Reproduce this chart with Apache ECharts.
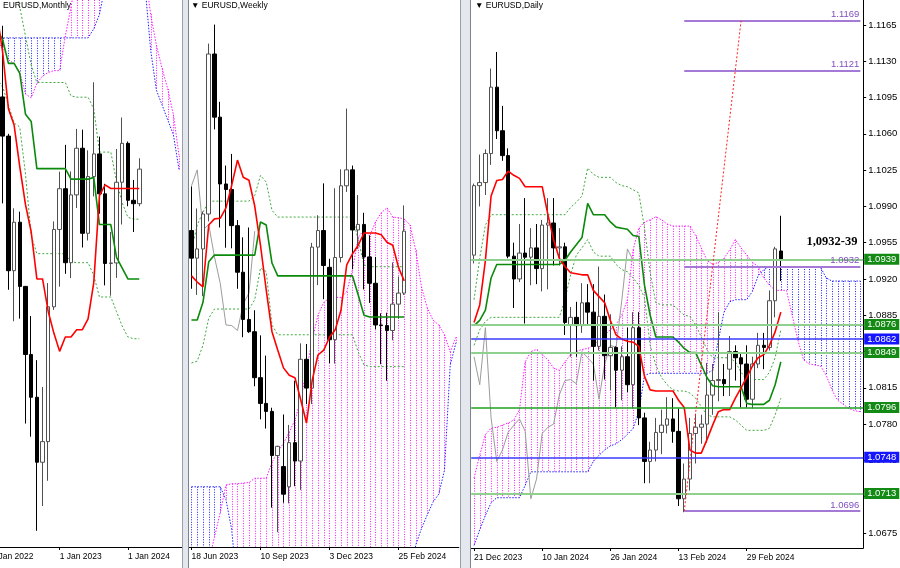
<!DOCTYPE html>
<html><head><meta charset="utf-8">
<script src="https://cdn.jsdelivr.net/npm/echarts@6/dist/echarts.min.js"></script>
<style>html,body{margin:0;padding:0;background:#fff}#c{width:900px;height:568px}</style>
</head><body><div id="c"></div><script>
// ---------- MONTHLY ----------
const monthDates = ['1 Jan 2022','1 Feb 2022','1 Mar 2022','1 Apr 2022','1 May 2022','1 Jun 2022','1 Jul 2022','1 Aug 2022','1 Sep 2022','1 Oct 2022','1 Nov 2022','1 Dec 2022','1 Jan 2023','1 Feb 2023','1 Mar 2023','1 Apr 2023','1 May 2023','1 Jun 2023','1 Jul 2023','1 Aug 2023','1 Sep 2023','1 Oct 2023','1 Nov 2023','1 Dec 2023','1 Jan 2024','1 Feb 2024','1 Mar 2024'];
// [open, close, low, high] from Mar 2022
const monthOHLC = [[1.1219,1.1067,1.0806,1.1495],[1.1067,1.0545,1.0471,1.1076],[1.0545,1.0733,1.0349,1.0787],[1.0733,1.0484,1.0359,1.0774],[1.0484,1.0220,0.9952,1.0486],[1.0220,1.0054,0.9901,1.0369],[1.0054,0.9802,0.9536,1.0198],[0.9802,0.9882,0.9632,1.0094],[0.9882,1.0405,0.9730,1.0497],[1.0405,1.0705,1.0393,1.0736],[1.0705,1.0863,1.0483,1.0929],[1.0863,1.0576,1.0533,1.1033],[1.0576,1.0839,1.0516,1.0930],[1.0839,1.1020,1.0788,1.1095],[1.1020,1.0690,1.0635,1.1092],[1.0690,1.0910,1.0662,1.1012],[1.0910,1.0998,1.0833,1.1276],[1.0998,1.0843,1.0766,1.1065],[1.0843,1.0573,1.0488,1.0882],[1.0573,1.0575,1.0448,1.0695],[1.0575,1.0888,1.0517,1.1017],[1.0888,1.1039,1.0724,1.1139],[1.1039,1.0818,1.0795,1.1046],[1.0818,1.0805,1.0695,1.0897],[1.0805,1.0939,1.0795,1.0981]];
const monthTenkan = [1.1560,1.1540,1.1391,1.1173,1.1110,1.0948,1.0801,1.0696,1.0513,1.0513,1.0386,1.0302,1.0232,1.0288,1.0288,1.0316,1.0316,1.0358,1.0499,1.0836,1.0878,1.0864,1.0864,1.0864,1.0864,1.0864,1.0864];
const monthKijun = [1.1500,1.1480,1.1440,1.1349,1.1349,1.1310,1.1152,1.1124,1.0941,1.0941,1.0941,1.0941,1.0941,1.0941,1.0900,1.0900,1.0900,1.0900,1.0907,1.0724,1.0724,1.0724,1.0597,1.0555,1.0513,1.0513,1.0513];
const monthUpper = [1.1800,1.1800,1.1750,1.1700,1.1650,1.1567,1.1455,1.1343,1.1275,1.1275,1.1275,1.1275,1.1275,1.1275,1.1223,1.1218,1.1218,1.1218,1.1173,1.1005,1.1005,1.1005,1.0892,1.0808,1.0752,1.0745,1.0745];
const monthLower = [1.1310,1.1290,1.1257,1.1188,1.1118,1.1102,1.0920,1.0681,1.0611,1.0611,1.0611,1.0611,1.0611,1.0611,1.0580,1.0576,1.0576,1.0576,1.0527,1.0443,1.0443,1.0443,1.0386,1.0330,1.0288,1.0281,1.0281];
const monthSpanPink = [1.1430,1.1428,1.1413,1.1363,1.1349,1.1314,1.1230,1.1216,1.1272,1.1300,1.1314,1.1321,1.1321,1.1455,1.1567,1.1700,1.1700,1.1700,1.1700,1.1700,1.1700,1.1700,1.1700,1.1700,1.1700,1.1700,1.1700,1.1700,1.1540,1.1420,1.1330,1.1250,1.1150,1.0990];
const monthSpanBlue = [1.1448,1.1448,1.1448,1.1448,1.1448,1.1448,1.1448,1.1448,1.1448,1.1448,1.1448,1.1448,1.1448,1.1448,1.1448,1.1448,1.1448,1.1448,1.1483,1.1539,1.1650,1.1650,1.1650,1.1650,1.1650,1.1650,1.1650,1.1650,1.1401,1.1246,1.1188,1.1130,1.1072,1.0935];

// ---------- WEEKLY ----------
const weekDates = ['18 Jun 2023','25 Jun 2023','2 Jul 2023','9 Jul 2023','16 Jul 2023','23 Jul 2023','30 Jul 2023','6 Aug 2023','13 Aug 2023','20 Aug 2023','27 Aug 2023','3 Sep 2023','10 Sep 2023','17 Sep 2023','24 Sep 2023','1 Oct 2023','8 Oct 2023','15 Oct 2023','22 Oct 2023','29 Oct 2023','5 Nov 2023','12 Nov 2023','19 Nov 2023','26 Nov 2023','3 Dec 2023','10 Dec 2023','17 Dec 2023','24 Dec 2023','31 Dec 2023','7 Jan 2024','14 Jan 2024','21 Jan 2024','28 Jan 2024','4 Feb 2024','11 Feb 2024','18 Feb 2024','25 Feb 2024','3 Mar 2024'];
const weekOHLC = [[1.0940,1.0895,1.0845,1.1012],[1.0895,1.0910,1.0835,1.0976],[1.0910,1.0967,1.0833,1.0971],[1.0967,1.1228,1.0955,1.1245],[1.1228,1.1125,1.1105,1.1276],[1.1125,1.1016,1.0945,1.1150],[1.1016,1.1007,1.0912,1.1046],[1.1007,1.0948,1.0911,1.1065],[1.0948,1.0872,1.0845,1.0957],[1.0872,1.0795,1.0766,1.0929],[1.0795,1.0775,1.0773,1.0945],[1.0775,1.0700,1.0686,1.0810],[1.0700,1.0658,1.0632,1.0769],[1.0658,1.0645,1.0617,1.0736],[1.0645,1.0573,1.0488,1.0651],[1.0573,1.0588,1.0448,1.0589],[1.0555,1.0510,1.0496,1.0640],[1.0522,1.0594,1.0495,1.0623],[1.0594,1.0564,1.0523,1.0695],[1.0564,1.0730,1.0517,1.0756],[1.0730,1.0683,1.0657,1.0755],[1.0683,1.0913,1.0657,1.0920],[1.0913,1.0940,1.0851,1.0965],[1.0940,1.0883,1.0828,1.1017],[1.0880,1.0762,1.0724,1.0894],[1.0762,1.0896,1.0723,1.1009],[1.0896,1.1013,1.0888,1.1040],[1.1013,1.1039,1.1003,1.1139],[1.1039,1.0941,1.0877,1.1046],[1.0941,1.0950,1.0910,1.0998],[1.0950,1.0897,1.0844,1.0969],[1.0897,1.0854,1.0822,1.0932],[1.0854,1.0786,1.0779,1.0897],[1.0786,1.0785,1.0722,1.0805],[1.0785,1.0777,1.0695,1.0806],[1.0777,1.0820,1.0761,1.0888],[1.0820,1.0838,1.0796,1.0865],[1.0838,1.0939,1.0835,1.0981]];
const weekTenkan = [1.0866,1.0856,1.0848,1.0949,1.0959,1.0960,1.0977,1.1014,1.1055,1.1027,1.1022,1.0980,1.0916,1.0843,1.0775,1.0745,1.0716,1.0704,1.0700,1.0664,1.0626,1.0696,1.0737,1.0745,1.0766,1.0778,1.0810,1.0884,1.0902,1.0916,1.0936,1.0936,1.0936,1.0933,1.0921,1.0916,1.0880,1.0858];
const weekKijun = [1.0794,1.0794,1.0823,1.0889,1.0900,1.0900,1.0900,1.0900,1.0900,1.0900,1.0900,1.0900,1.0954,1.0949,1.0887,1.0866,1.0866,1.0866,1.0866,1.0866,1.0866,1.0866,1.0866,1.0866,1.0866,1.0866,1.0866,1.0866,1.0866,1.0835,1.0802,1.0799,1.0799,1.0799,1.0799,1.0799,1.0799,1.0799];
const weekUpper = [1.0908,1.0949,1.0970,1.0988,1.0988,1.0988,1.0988,1.0988,1.0988,1.0988,1.0988,1.0997,1.1030,1.1019,1.0973,1.0962,1.0962,1.0962,1.0962,1.0962,1.0962,1.0962,1.0962,1.0962,1.0962,1.0962,1.0962,1.0962,1.0962,1.0925,1.0884,1.0881,1.0881,1.0881,1.0881,1.0881,1.0881,1.0881];
const weekLower = [1.0724,1.0727,1.0753,1.0797,1.0812,1.0812,1.0812,1.0812,1.0812,1.0812,1.0812,1.0827,1.0879,1.0873,1.0786,1.0770,1.0770,1.0770,1.0770,1.0770,1.0770,1.0770,1.0770,1.0770,1.0770,1.0770,1.0770,1.0770,1.0770,1.0742,1.0721,1.0718,1.0718,1.0718,1.0718,1.0718,1.0718,1.0718];
const weekChikou = [1.1013,1.1039,1.0941,1.0950,1.0897,1.0854,1.0786,1.0785,1.0777,1.0820,1.0838,1.0939];
const weekSpanPink = [1.0350,1.0350,1.0370,1.0400,1.0440,1.0480,1.0525,1.0527,1.0527,1.0528,1.0529,1.0536,1.0536,1.0536,1.0562,1.0579,1.0593,1.0611,1.0631,1.0664,1.0713,1.0761,1.0802,1.0823,1.0830,1.0831,1.0831,1.0840,1.0876,1.0929,1.0941,1.0931,1.0954,1.0969,1.0977,1.0962,1.0961,1.0959,1.0949,1.0908,1.0848,1.0814,1.0794,1.0786,1.0770,1.0742,1.0766];
const weekSpanBlue = [1.0522,1.0522,1.0522,1.0522,1.0522,1.0522,1.0501,1.0452,1.0350,1.0350,1.0350,1.0350,1.0350,1.0350,1.0350,1.0350,1.0350,1.0350,1.0350,1.0350,1.0350,1.0350,1.0350,1.0350,1.0350,1.0350,1.0350,1.0350,1.0350,1.0350,1.0350,1.0350,1.0350,1.0350,1.0350,1.0350,1.0350,1.0350,1.0350,1.0427,1.0454,1.0476,1.0497,1.0510,1.0549,1.0721,1.0757];

// ---------- DAILY ----------
const dayDates = ['21 Dec 2023','22 Dec 2023','26 Dec 2023','27 Dec 2023','28 Dec 2023','29 Dec 2023','2 Jan 2024','3 Jan 2024','4 Jan 2024','5 Jan 2024','8 Jan 2024','9 Jan 2024','10 Jan 2024','11 Jan 2024','12 Jan 2024','15 Jan 2024','16 Jan 2024','17 Jan 2024','18 Jan 2024','19 Jan 2024','22 Jan 2024','23 Jan 2024','24 Jan 2024','25 Jan 2024','26 Jan 2024','29 Jan 2024','30 Jan 2024','31 Jan 2024','1 Feb 2024','2 Feb 2024','5 Feb 2024','6 Feb 2024','7 Feb 2024','8 Feb 2024','9 Feb 2024','12 Feb 2024','13 Feb 2024','14 Feb 2024','15 Feb 2024','16 Feb 2024','19 Feb 2024','20 Feb 2024','21 Feb 2024','22 Feb 2024','23 Feb 2024','26 Feb 2024','27 Feb 2024','28 Feb 2024','29 Feb 2024','1 Mar 2024','4 Mar 2024','5 Mar 2024','6 Mar 2024','7 Mar 2024','8 Mar 2024'];
const dayOHLC = [[1.0943,1.1010,1.0935,1.1012],[1.1010,1.1013,1.0990,1.1040],[1.1013,1.1041,1.1001,1.1045],[1.1041,1.1105,1.1030,1.1123],[1.1105,1.1063,1.1055,1.1139],[1.1063,1.1039,1.1034,1.1087],[1.1039,1.0942,1.0940,1.1046],[1.0942,1.0920,1.0892,1.0955],[1.0920,1.0945,1.0917,1.0973],[1.0945,1.0941,1.0877,1.0998],[1.0941,1.0950,1.0914,1.0969],[1.0950,1.0930,1.0915,1.0973],[1.0930,1.0972,1.0908,1.0977],[1.0972,1.0974,1.0910,1.0998],[1.0974,1.0950,1.0933,1.0998],[1.0950,1.0951,1.0933,1.0969],[1.0951,1.0878,1.0866,1.0955],[1.0876,1.0883,1.0845,1.0893],[1.0883,1.0875,1.0845,1.0898],[1.0875,1.0897,1.0868,1.0916],[1.0897,1.0888,1.0876,1.0915],[1.0888,1.0855,1.0822,1.0915],[1.0855,1.0884,1.0851,1.0932],[1.0884,1.0846,1.0823,1.0905],[1.0846,1.0854,1.0813,1.0886],[1.0854,1.0832,1.0796,1.0855],[1.0832,1.0845,1.0803,1.0855],[1.0845,1.0818,1.0811,1.0873],[1.0818,1.0873,1.0795,1.0888],[1.0873,1.0786,1.0779,1.0888],[1.0786,1.0744,1.0723,1.0791],[1.0744,1.0755,1.0723,1.0763],[1.0755,1.0772,1.0744,1.0786],[1.0772,1.0779,1.0751,1.0794],[1.0779,1.0785,1.0771,1.0806],[1.0785,1.0773,1.0762,1.0805],[1.0773,1.0708,1.0701,1.0795],[1.0708,1.0727,1.0695,1.0742],[1.0727,1.0771,1.0716,1.0786],[1.0771,1.0777,1.0742,1.0790],[1.0777,1.0780,1.0761,1.0789],[1.0780,1.0808,1.0762,1.0839],[1.0808,1.0822,1.0789,1.0838],[1.0822,1.0823,1.0802,1.0888],[1.0823,1.0819,1.0807,1.0838],[1.0833,1.0850,1.0807,1.0865],[1.0850,1.0844,1.0822,1.0856],[1.0844,1.0838,1.0796,1.0848],[1.0838,1.0804,1.0796,1.0856],[1.0804,1.0838,1.0795,1.0845],[1.0838,1.0856,1.0834,1.0868],[1.0856,1.0854,1.0833,1.0868],[1.0854,1.0899,1.0851,1.0909],[1.0899,1.0949,1.0883,1.0951],[1.0947,1.0938,1.0918,1.0981]];
const dayTenkan = [1.0878,1.0895,1.0938,1.1000,1.1015,1.1016,1.1024,1.1020,1.1017,1.1009,1.1009,1.1009,1.1009,1.0982,1.0958,1.0940,1.0932,1.0926,1.0925,1.0924,1.0924,1.0909,1.0903,1.0897,1.0880,1.0866,1.0862,1.0860,1.0859,1.0855,1.0826,1.0813,1.0812,1.0812,1.0812,1.0812,1.0803,1.0796,1.0755,1.0752,1.0752,1.0765,1.0779,1.0792,1.0794,1.0794,1.0805,1.0815,1.0825,1.0836,1.0844,1.0847,1.0856,1.0869,1.0888];
const dayKijun = [1.0875,1.0880,1.0890,1.0921,1.0934,1.0934,1.0934,1.0934,1.0934,1.0934,1.0934,1.0934,1.0934,1.0934,1.0934,1.0934,1.0938,1.0946,1.0953,1.0960,1.0993,1.0982,1.0982,1.0982,1.0975,1.0970,1.0969,1.0968,1.0962,1.0961,1.0914,1.0885,1.0864,1.0864,1.0864,1.0864,1.0859,1.0853,1.0849,1.0849,1.0837,1.0825,1.0817,1.0816,1.0816,1.0816,1.0816,1.0816,1.0800,1.0799,1.0799,1.0799,1.0803,1.0818,1.0840];
const dayUpper = [1.0900,1.0940,1.0972,1.0982,1.0982,1.0982,1.0982,1.0982,1.0982,1.0982,1.0982,1.0982,1.0982,1.0982,1.0982,1.0982,1.0982,1.0989,1.0994,1.1000,1.1027,1.1021,1.1018,1.1018,1.1018,1.1013,1.1010,1.1009,1.1006,1.1003,1.0969,1.0926,1.0897,1.0895,1.0895,1.0895,1.0890,1.0885,1.0884,1.0876,1.0864,1.0852,1.0844,1.0844,1.0844,1.0844,1.0840,1.0830,1.0823,1.0823,1.0823,1.0823,1.0830,1.0844,1.0871];
const dayLower = [1.0856,1.0871,1.0879,1.0883,1.0883,1.0883,1.0883,1.0883,1.0883,1.0883,1.0883,1.0883,1.0883,1.0883,1.0883,1.0883,1.0900,1.0924,1.0943,1.0950,1.0958,1.0946,1.0942,1.0942,1.0942,1.0934,1.0929,1.0927,1.0921,1.0914,1.0902,1.0856,1.0837,1.0825,1.0818,1.0813,1.0812,1.0812,1.0810,1.0805,1.0797,1.0789,1.0787,1.0787,1.0787,1.0787,1.0784,1.0779,1.0774,1.0774,1.0774,1.0774,1.0776,1.0789,1.0805];
const dayChikou = [1.0845,1.0818,1.0873,1.0786,1.0744,1.0755,1.0772,1.0779,1.0785,1.0773,1.0708,1.0727,1.0771,1.0777,1.0780,1.0808,1.0822,1.0823,1.0819,1.0850,1.0844,1.0838,1.0804,1.0838,1.0856,1.0854,1.0899,1.0949,1.0938];
const daySpanPink = [1.0728,1.0750,1.0770,1.0776,1.0777,1.0779,1.0781,1.0784,1.0794,1.0840,1.0850,1.0852,1.0847,1.0842,1.0834,1.0832,1.0840,1.0847,1.0850,1.0852,1.0853,1.0856,1.0861,1.0866,1.0871,1.0876,1.0885,1.0900,1.0948,1.0969,1.0975,1.0977,1.0980,1.0977,1.0973,1.0971,1.0971,1.0971,1.0971,1.0962,1.0950,1.0938,1.0934,1.0936,1.0940,1.0948,1.0958,1.0950,1.0943,1.0936,1.0932,1.0921,1.0914,1.0909,1.0909,1.0909,1.0885,1.0861,1.0842,1.0838,1.0837,1.0836,1.0827,1.0813,1.0803,1.0799,1.0795,1.0793,1.0792];
const daySpanBlue = [1.0663,1.0678,1.0692,1.0704,1.0709,1.0709,1.0709,1.0709,1.0709,1.0721,1.0734,1.0734,1.0734,1.0734,1.0734,1.0734,1.0734,1.0734,1.0734,1.0734,1.0734,1.0744,1.0750,1.0755,1.0759,1.0761,1.0765,1.0770,1.0776,1.0792,1.0827,1.0829,1.0829,1.0829,1.0829,1.0829,1.0829,1.0829,1.0829,1.0829,1.0829,1.0829,1.0832,1.0861,1.0888,1.0898,1.0900,1.0900,1.0900,1.0908,1.0923,1.0929,1.0932,1.0932,1.0932,1.0932,1.0932,1.0932,1.0932,1.0932,1.0932,1.0931,1.0921,1.0918,1.0918,1.0918,1.0918,1.0918,1.0918];
const dayTicks = [1.0675,1.0710,1.0745,1.0780,1.0815,1.0850,1.0885,1.0920,1.0955,1.0990,1.1025,1.1060,1.1095,1.1130,1.1165];
const levelsLightGreen = [1.0939,1.0876,1.0849,1.0713];
const levelsDarkGreen = [1.0796];
const levelsBlue = [1.0862,1.0748];
const levelsPurple = [1.1169,1.1121,1.0932,1.0696];
const purpleStartIdx = 37;
const targetLine = [[37,1.0696],[47,1.1169]];
const noteText = '1,0932-39';
const notePos = [63,1.0956];

// ---------- build ----------
const PINK = '#ff1aff', BLUE = '#2020ff';
const FONT = 'Liberation Sans, Arial, sans-serif';
function pad(arr, n){ const a = arr.slice(); while (a.length < n) a.push(''); return a; }
function pairs(arr, off){ return arr.map((v,i)=>[i+off, v]); }
function hatch(params, api){
  const k = api.value(0), a = api.value(1), b = api.value(2);
  const pa = api.coord([k, a]), pb = api.coord([k, b]);
  const cs = params.coordSys;
  const top = cs.y, bot = cs.y + cs.height;
  const y1 = Math.max(top, Math.min(bot, pa[1]));
  const y2 = Math.max(top, Math.min(bot, pb[1]));
  if (Math.abs(y2 - y1) < 0.5) return null;
  const x = Math.round(pa[0]) + 0.5;
  return {type:'line', shape:{x1:x, y1:Math.min(y1,y2), x2:x, y2:Math.max(y1,y2)},
    style:{stroke: a >= b ? PINK : BLUE, lineWidth:1, lineDash:[1,1.5]}};
}
function lineS(idx, data, ls, z){
  return {type:'line', xAxisIndex:idx, yAxisIndex:idx, data, symbol:'none', showSymbol:false, silent:true,
    lineStyle:ls, z, clip:true, animation:false};
}
function panel(idx, o){
  const s = [];
  s.push({type:'custom', xAxisIndex:idx, yAxisIndex:idx, data:o.pink.map((v,i)=>[i, v, o.blue[i]]),
    renderItem:hatch, silent:true, z:1, animation:false});
  s.push(lineS(idx, pairs(o.pink,0), {color:PINK, width:1, type:[1.5,1.5]}, 1));
  s.push(lineS(idx, pairs(o.blue,0), {color:BLUE, width:1, type:[1.5,1.5]}, 1));
  if (o.chikou) s.push(lineS(idx, pairs(o.chikou,0), {color:'#9c9c9c', width:1}, 2));
  s.push(lineS(idx, pairs(o.upper,o.lineOff), {color:'#3da83d', width:1, type:[2,2]}, 2));
  s.push(lineS(idx, pairs(o.lower,o.lineOff), {color:'#3da83d', width:1, type:[2,2]}, 2));
  s.push({type:'candlestick', xAxisIndex:idx, yAxisIndex:idx, silent:true,
    data:o.ohlc.map((d,i)=>[i+o.barOff, d[0], d[1], d[2], d[3]]), encode:{x:0, y:[1,2,3,4]},
    barWidth:4, itemStyle:{color:'#ffffff', color0:'#000000', borderColor:'#505050', borderColor0:'#000000', borderWidth:1}, z:3});
  s.push(lineS(idx, pairs(o.kijun,o.lineOff), {color:'#0a8a0a', width:1.6}, 4));
  s.push(lineS(idx, pairs(o.tenkan,o.lineOff), {color:'#ff0000', width:1.6}, 4));
  return s;
}
function xAx(idx, cats){
  const iv = (i, v) => v !== '' && i % 12 === 0;
  return {type:'category', gridIndex:idx, data:cats, boundaryGap:true,
    axisLine:{show:true, lineStyle:{color:'#000', width:1}},
    axisTick:{show:true, length:3, alignWithLabel:true, interval:iv, lineStyle:{color:'#000'}},
    axisLabel:{interval:iv, align:'left', margin:5, fontSize:8.5, color:'#000', fontFamily:FONT, hideOverlap:false},
    splitLine:{show:false}};
}
const mS = panel(0, {ohlc:monthOHLC, barOff:2, lineOff:0, tenkan:monthTenkan, kijun:monthKijun, upper:monthUpper, lower:monthLower, pink:monthSpanPink, blue:monthSpanBlue});
const wS = panel(1, {ohlc:weekOHLC, barOff:0, lineOff:0, tenkan:weekTenkan, kijun:weekKijun, upper:weekUpper, lower:weekLower, pink:weekSpanPink, blue:weekSpanBlue, chikou:weekChikou});
const dS = panel(2, {ohlc:dayOHLC, barOff:0, lineOff:0, tenkan:dayTenkan, kijun:dayKijun, upper:dayUpper, lower:dayLower, pink:daySpanPink, blue:daySpanBlue, chikou:dayChikou});

const lastIdx = daySpanPink.length - 1;
const boxLabel = (bg) => ({show:true, position:'end', distance:1, formatter:(p)=>Number(p.value).toFixed(4),
  backgroundColor:bg, color:'#fff', padding:[1,3,0,3], fontSize:9.5, fontFamily:FONT});
const mlData = [];
levelsLightGreen.forEach(v => mlData.push({yAxis:v, lineStyle:{color:'#8fd08f', width:2, type:'solid'}, label:boxLabel('#138a13')}));
levelsDarkGreen.forEach(v => mlData.push({yAxis:v, lineStyle:{color:'#1ea01e', width:1.5, type:'solid'}, label:boxLabel('#138a13')}));
levelsBlue.forEach(v => mlData.push({yAxis:v, lineStyle:{color:'#3a3aff', width:1.5, type:'solid'}, label:boxLabel('#1515ff')}));
levelsPurple.forEach(v => mlData.push([
  {coord:[purpleStartIdx, v], lineStyle:{color:'#a47ad6', width:2, type:'solid'},
   label:{show:true, position:'insideEndTop', distance:1, formatter:v.toFixed(4), color:'#8050c0', fontSize:9.5, fontFamily:FONT}},
  {coord:[lastIdx, v]}]));
mlData.push([{coord:targetLine[0], lineStyle:{color:'#ff2020', width:1, type:[2,2]}, label:{show:false}}, {coord:targetLine[1]}]);

dS.push({type:'line', xAxisIndex:2, yAxisIndex:2, data:[], silent:true, z:5,
  markLine:{silent:true, precision:4, symbol:['none','none'], animation:false, data:mlData},
  markPoint:{silent:true, animation:false, symbol:'circle', symbolSize:0,
    data:[{coord:notePos, label:{show:true, position:'inside', formatter:noteText, color:'#000', fontSize:12.5, fontWeight:'bold', fontFamily:'Liberation Serif, Times New Roman, serif'}}]}});

const gridBase = {containLabel:false, outerBoundsMode:'none'};
const option = {
  animation:false, backgroundColor:'#ffffff', textStyle:{fontFamily:FONT},
  title:[
    {text:'EURUSD,Monthly', left:3, top:1, padding:0, textStyle:{fontSize:8.5, fontWeight:'normal', color:'#000'}},
    {text:'\u25BC EURUSD,Weekly', left:191, top:1, padding:0, textStyle:{fontSize:8.5, fontWeight:'normal', color:'#000'}},
    {text:'\u25BC EURUSD,Daily', left:475, top:1, padding:0, textStyle:{fontSize:8.5, fontWeight:'normal', color:'#000'}}
  ],
  grid:[
    Object.assign({left:-11.5, top:0, width:193.46, height:547}, gridBase),
    Object.assign({left:188.6, top:0, width:270.25, height:547}, gridBase),
    Object.assign({left:471.2, top:0, width:392, height:548}, gridBase)
  ],
  xAxis:[xAx(0, pad(monthDates, monthSpanPink.length)), xAx(1, pad(weekDates, weekSpanPink.length)), xAx(2, pad(dayDates, daySpanPink.length))],
  yAxis:[
    {type:'value', gridIndex:0, min:0.94732, max:1.15950, show:false, splitLine:{show:false}},
    {type:'value', gridIndex:1, min:1.04238, max:1.13161, show:false, splitLine:{show:false}},
    {type:'value', gridIndex:2, position:'right', min:1.06605, max:1.11891,
      axisLine:{show:true, lineStyle:{color:'#000'}},
      axisTick:{show:true, length:3, customValues:dayTicks, lineStyle:{color:'#000'}},
      axisLabel:{customValues:dayTicks, formatter:(v)=>Number(v).toFixed(4), fontSize:9.5, color:'#000', margin:5, fontFamily:FONT},
      splitLine:{show:false}}
  ],
  graphic:[
    {type:'rect', shape:{x:182.5, y:0, width:6, height:568}, style:{fill:'#e4e8ee'}, z:100},
    {type:'line', shape:{x1:182.5, y1:0, x2:182.5, y2:568}, style:{stroke:'#9aa0a8', lineWidth:1}, z:101},
    {type:'line', shape:{x1:188.5, y1:0, x2:188.5, y2:568}, style:{stroke:'#7d838b', lineWidth:1}, z:101},
    {type:'rect', shape:{x:460.5, y:0, width:10, height:568}, style:{fill:'#e4e8ee'}, z:100},
    {type:'line', shape:{x1:460.5, y1:0, x2:460.5, y2:568}, style:{stroke:'#9aa0a8', lineWidth:1}, z:101},
    {type:'line', shape:{x1:470.5, y1:0, x2:470.5, y2:568}, style:{stroke:'#7d838b', lineWidth:1}, z:101}
  ],
  series:[...mS, ...wS, ...dS]
};
const chart = echarts.init(document.getElementById('c'), null, {renderer:'canvas'});
chart.setOption(option);
</script></body></html>
